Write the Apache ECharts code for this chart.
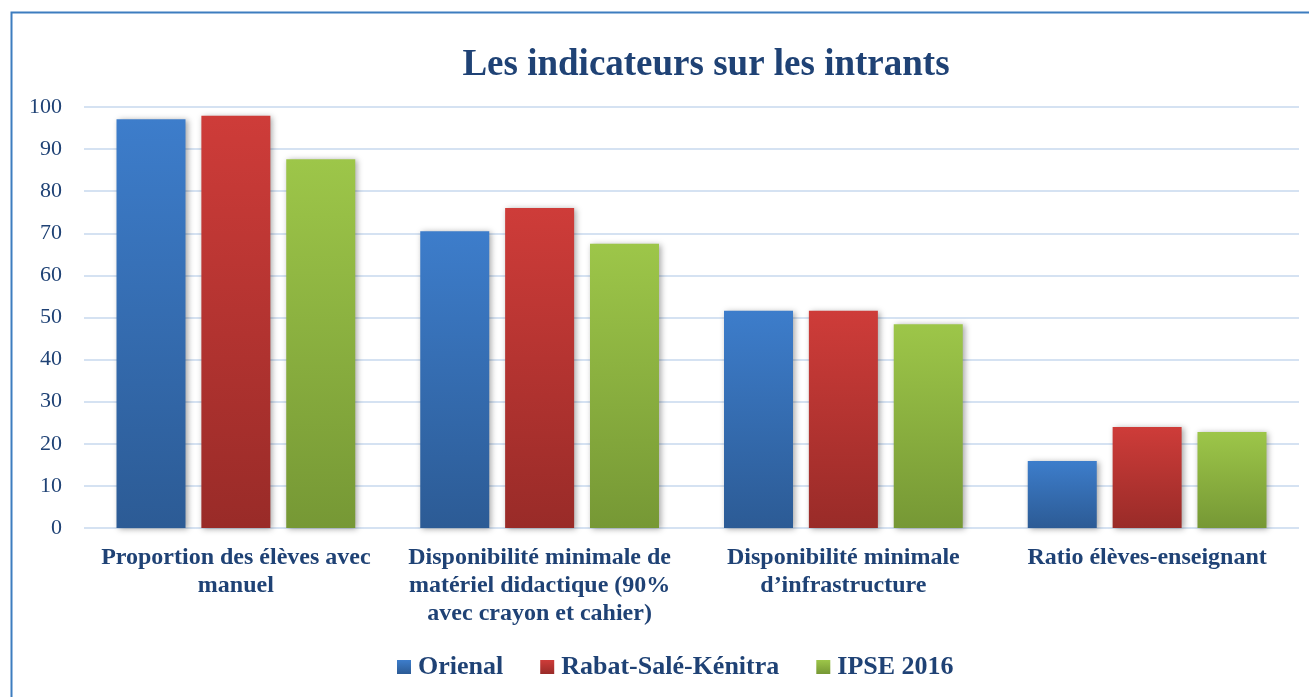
<!DOCTYPE html>
<html>
<head>
<meta charset="utf-8">
<script src="https://cdn.jsdelivr.net/npm/echarts@6/dist/echarts.min.js"></script>
<style>
html, body { margin: 0; padding: 0; background: #fff; }
#mychart { width: 1309px; height: 697px; }
</style>
</head>
<body>
<div id="mychart"></div>
<script>
var domchart = document.getElementById("mychart");

var categories = [
    'Proportion des élèves avec\nmanuel',
    'Disponibilité minimale de\nmatériel didactique (90%\navec crayon et cahier)',
    'Disponibilité minimale\nd\u2019infrastructure',
    'Ratio élèves-enseignant'
];
var seriesNames = ['Orienal', 'Rabat-Salé-Kénitra', 'IPSE 2016'];
var orienal = [97.1, 70.5, 51.6, 15.9];
var rabat = [97.9, 76.0, 51.6, 24.0];
var ipse = [87.6, 67.5, 48.4, 22.8];
var yTicks = [0, 10, 20, 30, 40, 50, 60, 70, 80, 90, 100];

var textColor = '#1F4275';
var serif = '"Liberation Serif", "DejaVu Serif", serif';

// couleurs haut / bas du dégradé
var barColors = [
    ['#3D7DCB', '#2C5B95'],
    ['#CE3C39', '#992B28'],
    ['#9DC649', '#769835']
];

function grad(c) {
    return new echarts.graphic.LinearGradient(0, 0, 0, 1, [
        { offset: 0, color: c[0] },
        { offset: 1, color: c[1] }
    ]);
}

function makeSeries(name, data, idx) {
    return {
        name: name,
        type: 'bar',
        data: data,
        barWidth: 69,
        barGap: '23%',
        itemStyle: {
            color: grad(barColors[idx]),
            shadowColor: 'rgba(0,0,0,0.35)',
            shadowBlur: 6,
            shadowOffsetX: 2,
            shadowOffsetY: 1
        }
    };
}

var option = {
    backgroundColor: '#fff',
    animation: false,
    title: {
        text: 'Les indicateurs sur les intrants',
        left: 701,
        top: 42,
        textAlign: 'center',
        textStyle: {
            fontFamily: serif,
            fontSize: 37,
            fontWeight: 'bold',
            color: textColor
        }
    },
    legend: {
        data: seriesNames.map(function (n, i) {
            return { name: n, itemStyle: { color: grad(barColors[i]) } };
        }),
        left: 392,
        top: 649,
        itemWidth: 14,
        itemHeight: 14,
        itemGap: 37,
        icon: 'rect',
        textStyle: {
            fontFamily: serif,
            fontSize: 26,
            fontWeight: 'bold',
            color: textColor,
            padding: [0, 0, 0, 2]
        }
    },
    grid: {
        left: 84,
        right: 10,
        top: 107,
        bottom: 169
    },
    xAxis: {
        type: 'category',
        data: categories,
        axisLine: { show: false },
        axisTick: { show: false },
        axisLabel: {
            margin: 16,
            fontFamily: serif,
            fontSize: 24,
            fontWeight: 'bold',
            color: textColor,
            lineHeight: 28,
            interval: 0
        }
    },
    yAxis: {
        type: 'value',
        min: yTicks[0],
        max: yTicks[yTicks.length - 1],
        interval: 10,
        axisLine: { show: false },
        axisTick: { show: false },
        axisLabel: {
            margin: 22,
            fontFamily: serif,
            fontSize: 22,
            color: textColor
        },
        splitLine: {
            lineStyle: { color: '#D5E2F2', width: 2 }
        }
    },
    graphic: [{
        type: 'rect',
        left: 9,
        top: 10,
        shape: { width: 1320, height: 720 },
        style: { fill: null, stroke: '#3D7DBF', lineWidth: 2 },
        silent: true,
        z: 100
    }],
    series: [
        makeSeries(seriesNames[0], orienal, 0),
        makeSeries(seriesNames[1], rabat, 1),
        makeSeries(seriesNames[2], ipse, 2)
    ]
};

var chart = echarts.init(domchart);
chart.setOption(option);
</script>
</body>
</html>
